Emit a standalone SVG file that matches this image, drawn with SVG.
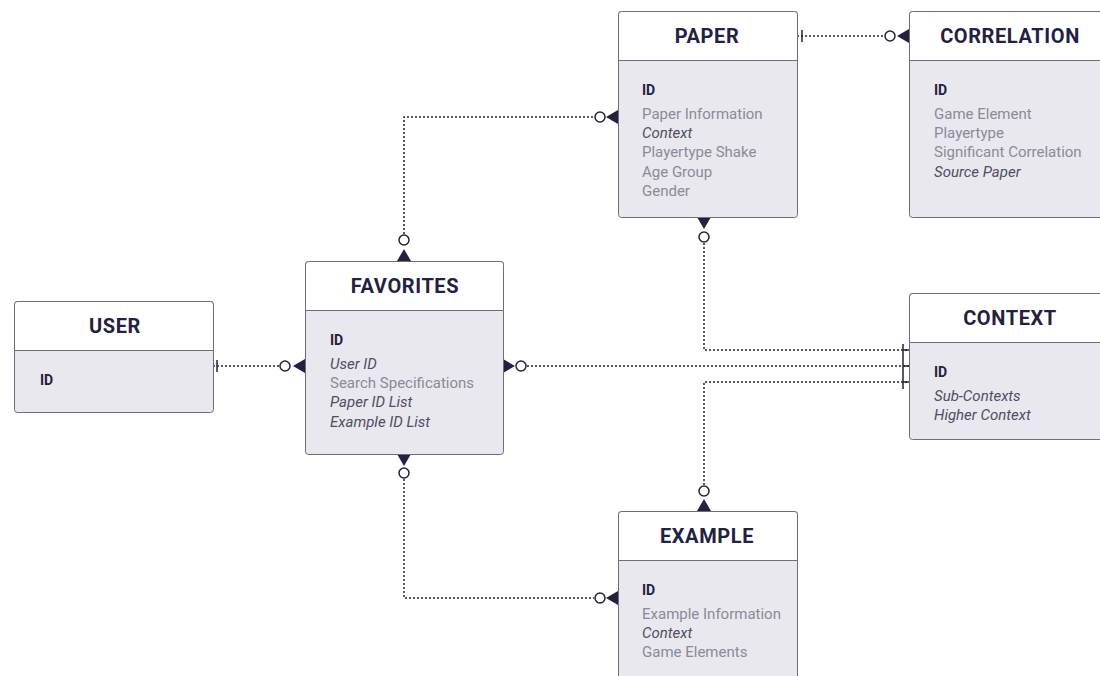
<svg xmlns="http://www.w3.org/2000/svg" width="1100" height="676" viewBox="0 0 1100 676">
<style>
.box{fill:#e9e8ef;stroke:#6e6d7c;stroke-width:1}
.hdr{fill:#ffffff;stroke:#6e6d7c;stroke-width:1}
.title{font-family:Roboto,"Liberation Sans",sans-serif;font-weight:bold;font-size:20px;fill:#23213f;text-anchor:middle;letter-spacing:0.6px}
.id{font-family:Roboto,"Liberation Sans",sans-serif;font-weight:bold;font-size:14px;fill:#23213f}
.at{font-family:Roboto,"Liberation Sans",sans-serif;font-size:15px;fill:#8b8a98}
.it{font-family:Roboto,"Liberation Sans",sans-serif;font-size:15px;fill:#4f4e62;font-style:italic}
.ln{fill:none;stroke:#23213f;stroke-width:1.5;stroke-dasharray:2 2}
.bar{fill:none;stroke:#23213f;stroke-width:1.5}
.circ{fill:#ffffff;stroke:#23213f;stroke-width:1.5}
.tri{fill:#23213f}
</style>
<rect width="1100" height="676" fill="#ffffff"/>

<g id="connectors">
  <!-- PAPER - CORRELATION -->
  <path class="ln" d="M797 36 H884"/>
  <path class="bar" d="M802 30 V42"/>
  <circle class="circ" cx="890" cy="36" r="5"/>
  <path class="tri" d="M909 29 L897 36 L909 43 Z"/>
  <!-- USER - FAVORITES -->
  <path class="ln" d="M213 366 H279"/>
  <path class="bar" d="M217 360 V372"/>
  <circle class="circ" cx="285" cy="366" r="5"/>
  <path class="tri" d="M305 359 L293 366 L305 373 Z"/>
  <!-- FAVORITES - PAPER -->
  <path class="ln" d="M404 234 V117 H594"/>
  <circle class="circ" cx="404" cy="240" r="5"/>
  <path class="tri" d="M397 261 L404 249 L411 261 Z"/>
  <circle class="circ" cx="600" cy="117" r="5"/>
  <path class="tri" d="M618 110 L606 117 L618 124 Z"/>
  <!-- FAVORITES - CONTEXT -->
  <path class="tri" d="M503 359 L515 366 L503 373 Z"/>
  <circle class="circ" cx="521" cy="366" r="5"/>
  <path class="ln" d="M527 366 H909"/>
  <!-- PAPER - CONTEXT -->
  <path class="tri" d="M697 217 L704 229 L711 217 Z"/>
  <circle class="circ" cx="704" cy="237" r="5"/>
  <path class="ln" d="M704 243 V350 H909"/>
  <!-- EXAMPLE - CONTEXT -->
  <path class="tri" d="M697 511 L704 499 L711 511 Z"/>
  <circle class="circ" cx="704" cy="491" r="5"/>
  <path class="ln" d="M704 485 V382 H909"/>
  <!-- CONTEXT bars -->
  <path class="bar" d="M903 344 V389"/>
  <path class="bar" d="M903 350 H909 M903 366 H909 M903 382 H909"/>
  <!-- FAVORITES - EXAMPLE -->
  <path class="tri" d="M397 454 L404 466 L411 454 Z"/>
  <circle class="circ" cx="404" cy="473" r="5"/>
  <path class="ln" d="M404 479 V598 H594"/>
  <circle class="circ" cx="600" cy="598" r="5"/>
  <path class="tri" d="M618 591 L606 598 L618 605 Z"/>
</g>

<g id="paper">
  <rect class="box" x="618.5" y="11.5" width="179" height="206" rx="3"/>
  <path class="hdr" d="M618.5 60.5 V14.5 Q618.5 11.5 621.5 11.5 H794.5 Q797.5 11.5 797.5 14.5 V60.5 Z"/>
  <text class="title" x="707" y="43">PAPER</text>
  <text class="id" x="642" y="95">ID</text>
  <text class="at" x="642" y="119">Paper Information</text>
  <text class="it" x="642" y="138">Context</text>
  <text class="at" x="642" y="157">Playertype Shake</text>
  <text class="at" x="642" y="177">Age Group</text>
  <text class="at" x="642" y="196">Gender</text>
</g>

<g id="correlation">
  <rect class="box" x="909.5" y="11.5" width="200" height="206" rx="3"/>
  <path class="hdr" d="M909.5 60.5 V14.5 Q909.5 11.5 912.5 11.5 H1109.5 V60.5 Z"/>
  <text class="title" x="1010" y="43">CORRELATION</text>
  <text class="id" x="934" y="95">ID</text>
  <text class="at" x="934" y="119">Game Element</text>
  <text class="at" x="934" y="138">Playertype</text>
  <text class="at" x="934" y="157">Significant Correlation</text>
  <text class="it" x="934" y="177">Source Paper</text>
</g>

<g id="user">
  <rect class="box" x="14.5" y="301.5" width="199" height="111" rx="3"/>
  <path class="hdr" d="M14.5 350.5 V304.5 Q14.5 301.5 17.5 301.5 H210.5 Q213.5 301.5 213.5 304.5 V350.5 Z"/>
  <text class="title" x="115" y="333">USER</text>
  <text class="id" x="40" y="385">ID</text>
</g>

<g id="favorites">
  <rect class="box" x="305.5" y="261.5" width="198" height="193" rx="3"/>
  <path class="hdr" d="M305.5 310.5 V264.5 Q305.5 261.5 308.5 261.5 H500.5 Q503.5 261.5 503.5 264.5 V310.5 Z"/>
  <text class="title" x="405" y="293">FAVORITES</text>
  <text class="id" x="330" y="345">ID</text>
  <text class="it" x="330" y="369">User ID</text>
  <text class="at" x="330" y="388">Search Specifications</text>
  <text class="it" x="330" y="407">Paper ID List</text>
  <text class="it" x="330" y="427">Example ID List</text>
</g>

<g id="context">
  <rect class="box" x="909.5" y="293.5" width="200" height="146" rx="3"/>
  <path class="hdr" d="M909.5 342.5 V296.5 Q909.5 293.5 912.5 293.5 H1109.5 V342.5 Z"/>
  <text class="title" x="1010" y="325">CONTEXT</text>
  <text class="id" x="934" y="377">ID</text>
  <text class="it" x="934" y="401">Sub-Contexts</text>
  <text class="it" x="934" y="420">Higher Context</text>
</g>

<g id="example">
  <rect class="box" x="618.5" y="511.5" width="179" height="180" rx="3"/>
  <path class="hdr" d="M618.5 560.5 V514.5 Q618.5 511.5 621.5 511.5 H794.5 Q797.5 511.5 797.5 514.5 V560.5 Z"/>
  <text class="title" x="707" y="543">EXAMPLE</text>
  <text class="id" x="642" y="595">ID</text>
  <text class="at" x="642" y="619">Example Information</text>
  <text class="it" x="642" y="638">Context</text>
  <text class="at" x="642" y="657">Game Elements</text>
</g>
</svg>
